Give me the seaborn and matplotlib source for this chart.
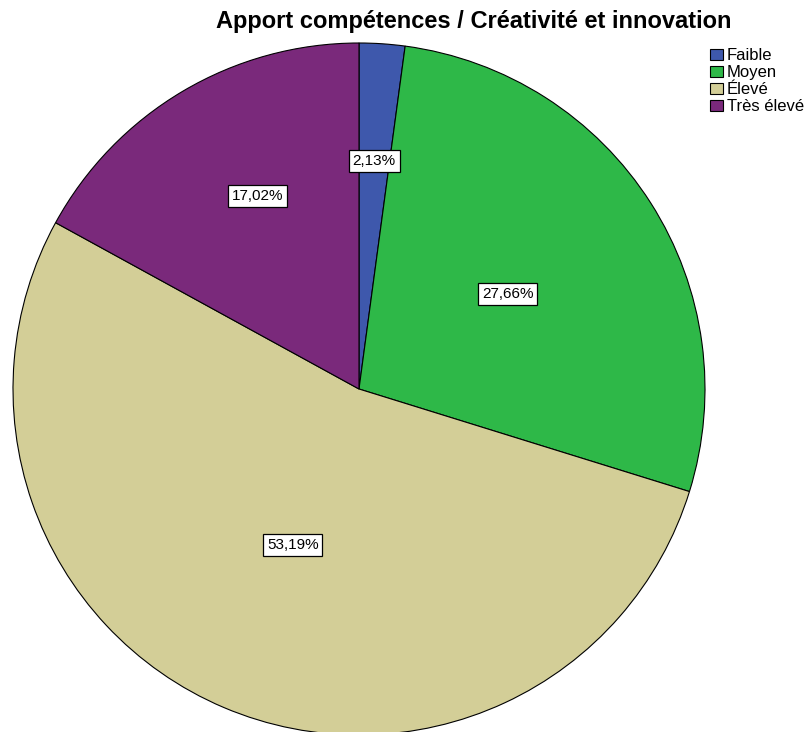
import matplotlib
matplotlib.use("Agg")
import matplotlib.pyplot as plt
import seaborn as sns
import numpy as np

# Data
categories = ["Faible", "Moyen", "Élevé", "Très élevé"]
percentages = [2.13, 27.66, 53.19, 17.02]
colors = ["#3E58AC", "#2EB848", "#D3CE97", "#7A297B"]

sns.set_style("white")
plt.rcParams['font.family'] = ['Liberation Sans', 'DejaVu Sans']
plt.rcParams['text.color'] = 'black'

fig = plt.figure(figsize=(8.09, 7.32), dpi=100)
ax = fig.add_axes([0, 0, 1, 1])

wedges, texts = ax.pie(percentages, colors=colors, startangle=90, counterclock=False,
                       radius=1.0, wedgeprops=dict(edgecolor='black', linewidth=0.8))

# radial position / angle nudge of each percentage label
label_dist = [0.66, 0.51, 0.49, 0.63]
label_nudge = [0, 0, 0, -3]
for w, pct, d, nd in zip(wedges, percentages, label_dist, label_nudge):
    ang = np.deg2rad((w.theta1 + w.theta2) / 2 + nd)
    ax.text(d * np.cos(ang), d * np.sin(ang), f"{pct:.2f}%".replace('.', ','),
            ha='center', va='center', fontsize=11, color='black',
            bbox=dict(boxstyle='square,pad=0.25', facecolor='white', edgecolor='black', linewidth=0.9))

# map the pie so its centre and radius match the reference layout
r = 346
cx, cy = 359, 389
ax.set_aspect('auto')
ax.set_xlim(-cx / r, (809 - cx) / r)
ax.set_ylim(-(732 - cy) / r, cy / r)
ax.axis('off')

fig.text(0.585, 0.97, "Apport compétences / Créativité et innovation",
         ha='center', va='center', fontsize=17, fontweight='bold', color='black')

fig.legend(wedges, categories, loc='upper left', bbox_to_anchor=(0.878, 0.934),
           frameon=False, fontsize=12, handlelength=0.75, handleheight=0.7,
           handletextpad=0.25, labelspacing=0.12, borderpad=0, borderaxespad=0)

fig.savefig("out.png", dpi=100)
